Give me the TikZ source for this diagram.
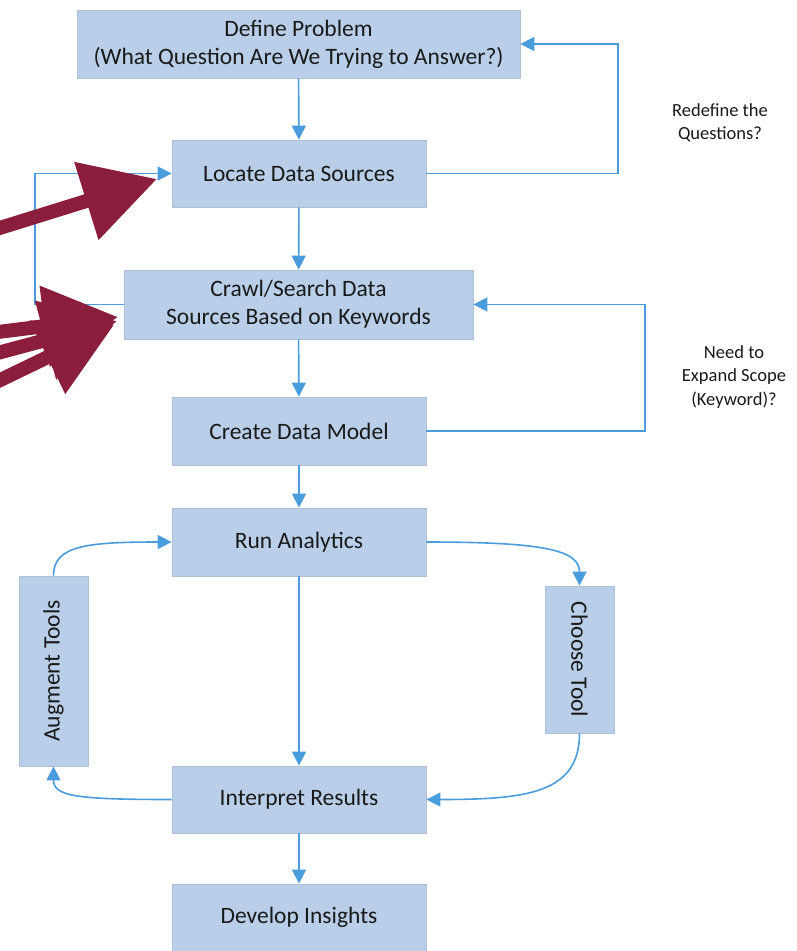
\documentclass[tikz,border=0pt]{standalone}
\usepackage{fontspec}
\setmainfont{Carlito}
\usetikzlibrary{arrows.meta}
\definecolor{boxblue}{RGB}{185,206,232}
\definecolor{boxedge}{RGB}{176,192,212}
\definecolor{lineblue}{RGB}{74,157,220}
\definecolor{annot}{RGB}{139,30,60}

\begin{document}
\begin{tikzpicture}
    [every node/.style={inner sep=0pt},
     box/.style={rectangle, fill=boxblue, draw=boxedge, line width=0.8pt, align=center,
                 text=black!90, font=\fontsize{23.5}{28}\selectfont},
     note/.style={align=center, text=black!90, font=\fontsize{18.5}{23.5}\selectfont},
     flow/.style={line width=1.6pt, draw=lineblue, -{Triangle[length=14pt,width=14pt]}},
     big/.style={line width=14pt, draw=annot, -{Triangle[length=74pt,width=78pt]}}]
        \useasboundingbox (0pt, 0pt) rectangle (797pt, -951pt);
        \node (1) [box, minimum width=443pt, minimum height=68pt] at (298.5pt, -44pt) {Define Problem\\(What Question Are We Trying to Answer?)};
        \node (2) [box, minimum width=254pt, minimum height=67pt] at (299pt, -173.5pt) {Locate Data Sources};
        \node (3) [box, minimum width=349pt, minimum height=69pt] at (298.5pt, -304.5pt) {Crawl/Search Data\\Sources Based on Keywords};
        \node (4) [box, minimum width=254pt, minimum height=68pt] at (299pt, -431pt) {Create Data Model};
        \node (5) [box, minimum width=254pt, minimum height=68pt] at (299pt, -542pt) {Run Analytics};
        \node (6) [box, minimum width=69pt, minimum height=190pt] at (53.5pt, -671pt) {\rotatebox{90}{Augment Tools}};
        \node (7) [box, minimum width=69pt, minimum height=147pt] at (579.5pt, -659.5pt) {\rotatebox{-90}{Choose Tool}};
        \node (8) [box, minimum width=254pt, minimum height=67pt] at (299pt, -799.5pt) {Interpret Results};
        \node (9) [box, minimum width=254pt, minimum height=67pt] at (299pt, -917.5pt) {Develop Insights};
        \node (q1) [note] at (720pt, -123pt) {Redefine the\\Questions?};
        \node (q2) [note] at (734pt, -377pt) {Need to\\Expand Scope\\(Keyword)?};
        \coordinate (r1) at (618pt, -44pt);
        \coordinate (r2) at (645pt, -304.5pt);
        \coordinate (l1) at (35pt, -173.5pt);
        \draw [flow] (1) to (2);
        \draw [flow] (2) to (3);
        \draw [flow] (3) to (4);
        \draw [flow] (4) to (5);
        \draw [flow] (5) to (8);
        \draw [flow] (8) to (9);
        \draw [flow] (2.east) -| (r1) -- (1.east);
        \draw [flow] (4.east) -| (r2) -- (3.east);
        \draw [flow] (3.west) -| (l1) -- (2.west);
        \draw [flow] (5.east) .. controls +(120pt, 0pt) and +(0pt, 35pt) .. (7.north);
        \draw [flow] (7.south) .. controls +(0pt, -60pt) and +(100pt, 0pt) .. (8.east);
        \draw [flow] (8.west) .. controls +(-95pt, 0pt) and +(0pt, -30pt) .. (6.south);
        \draw [flow] (6.north) .. controls +(0pt, 30pt) and +(-85pt, 0pt) .. (5.west);
        % annotation arrows on top
        \coordinate (s1) at (-10pt, -231pt);
        \coordinate (t1) at (157pt, -179pt);
        \coordinate (s2) at (-10pt, -333pt);
        \coordinate (t2) at (118pt, -317pt);
        \coordinate (s3) at (-10pt, -355pt);
        \coordinate (t3) at (117pt, -321pt);
        \coordinate (s4) at (-10pt, -385pt);
        \coordinate (t4) at (114pt, -325pt);
        \draw [big] (s1) -- (t1);
        \draw [big] (s2) -- (t2);
        \draw [big] (s3) -- (t3);
        \draw [big] (s4) -- (t4);
    \end{tikzpicture}
\end{document}
